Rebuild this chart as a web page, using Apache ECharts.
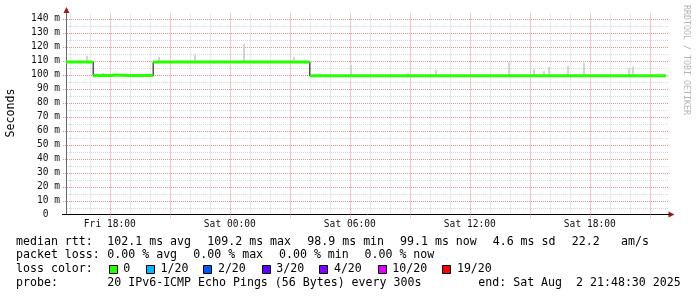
<!DOCTYPE html>
<html><head><meta charset="utf-8">
<script src="https://cdn.jsdelivr.net/npm/echarts@6/dist/echarts.min.js"></script>
<style>html,body{margin:0;padding:0;background:#fff}#c{width:697px;height:297px}</style>
</head><body><div id="c"></div>
<script>
// ---------------- data ----------------
const graphStart = '2025-08-01 15:48:30';
const graphEnd   = '2025-08-02 21:48:30';
const axisEnd    = '2025-08-02 21:57:30';
const xLabelTimes = ['2025-08-01 18:00','2025-08-02 00:00','2025-08-02 06:00','2025-08-02 12:00','2025-08-02 18:00'];
const yLabelValues = [0,10,20,30,40,50,60,70,80,90,100,110,120,130,140];
const yGridValues = [5,10,15,20,25,30,35,40,45,50,55,60,65,70,75,80,85,90,95,100,105,110,115,120,125,130,135,140];

// median rtt (ms), value holds from each time until the next one
const medianTimes = [
 '2025-08-01 15:48:30','2025-08-01 16:30','2025-08-01 16:35','2025-08-01 17:10','2025-08-01 17:20','2025-08-01 17:25',
 '2025-08-01 18:05','2025-08-01 18:15','2025-08-01 18:55','2025-08-01 19:00','2025-08-01 19:25','2025-08-01 19:30',
 '2025-08-01 19:45','2025-08-01 19:50','2025-08-01 20:10','2025-08-01 20:25','2025-08-01 20:30','2025-08-01 20:45',
 '2025-08-01 20:50','2025-08-01 21:25','2025-08-01 21:30','2025-08-01 21:40','2025-08-01 21:45','2025-08-01 22:40',
 '2025-08-01 22:45','2025-08-01 23:30','2025-08-01 23:35','2025-08-02 00:25','2025-08-02 00:30','2025-08-02 01:30',
 '2025-08-02 01:35','2025-08-02 01:45','2025-08-02 01:50','2025-08-02 02:30','2025-08-02 02:35','2025-08-02 02:55',
 '2025-08-02 03:00','2025-08-02 03:45','2025-08-02 03:50','2025-08-02 04:00','2025-08-02 06:05','2025-08-02 06:10',
 '2025-08-02 06:35','2025-08-02 06:40','2025-08-02 08:35','2025-08-02 08:40','2025-08-02 12:00','2025-08-02 12:05',
 '2025-08-02 17:20','2025-08-02 17:25','2025-08-02 17:55','2025-08-02 18:00','2025-08-02 18:50','2025-08-02 18:55',
 '2025-08-02 19:15','2025-08-02 19:20','2025-08-02 19:40','2025-08-02 19:45','2025-08-02 21:25','2025-08-02 21:30',
 '2025-08-02 21:48:30'];
const medianValues = [
 108.9,109.2,108.9,99.2,99.7,99.2,
 99.7,99.2,99.7,99.2,99.7,99.2,
 99.7,99.2,108.9,109.2,108.9,109.2,
 108.9,109.2,108.9,109.2,108.9,109.2,
 108.9,109.2,108.9,109.2,108.9,109.2,
 108.9,109.2,108.9,109.2,108.9,109.2,
 108.9,109.2,108.9,99.1,99.6,99.1,
 99.6,99.1,98.9,99.1,99.6,99.1,
 99.6,99.1,99.6,99.1,99.6,99.1,
 99.6,99.1,99.6,99.1,99.6,99.1,
 99.1];

// smoke (spread of the pings), ms
const smokeTimes = ['2025-08-01 16:52','2025-08-01 17:38','2025-08-01 20:28','2025-08-01 22:15','2025-08-02 00:43',
 '2025-08-02 03:13','2025-08-02 04:30','2025-08-02 06:03','2025-08-02 08:55','2025-08-02 10:18','2025-08-02 13:58',
 '2025-08-02 15:13','2025-08-02 15:43','2025-08-02 15:58','2025-08-02 16:53','2025-08-02 17:43','2025-08-02 19:58',
 '2025-08-02 20:08'];
const smokeLow  = [108.9,99.2,108.9,108.9,108.9,108.9,99.1,99.1,99.1,99.1,99.1,99.1,99.1,99.1,99.1,99.1,99.1,99.1];
const smokeHigh = [113.2,101.0,112.7,114.1,121.8,112.3,100.9,106.8,101.0,103.2,108.4,103.7,102.5,105.6,106.1,108.4,104.4,105.6];

const lossLabels = ['0','1/20','2/20','3/20','4/20','10/20','19/20'];
const lossColors = ['#26ff00','#00b8ff','#0059ff','#5e00ff','#7e00ff','#dd00ff','#ff0000'];

const rttItems  = ['102.1 ms avg','109.2 ms max','98.9 ms min','99.1 ms now','4.6 ms sd','22.2','am/s'];
const lossItems = ['0.00 % avg','0.00 % max','0.00 % min','0.00 % now'];
const probeText = '20 IPv6-ICMP Echo Pings (56 Bytes) every 300s';
const endText   = 'end: Sat Aug  2 21:48:30 2025';

// ---------------- layout ----------------
const MONO = '"DejaVu Sans Mono", "Liberation Mono", monospace';
const MAJOR = '#e69090', MINOR = '#d6d6d6';
const rttX  = [107.3, 207.3, 307.3, 400, 492.7, 571.7, 621];
const lossX = [107.3, 193.3, 279, 364.5];
const swatchX = [108.7, 146, 203.3, 261.7, 319.3, 377.7, 442.3];
const lineY = [241.7, 255.3, 269, 282.7];

const T = s => Date.parse(s.replace(' ', 'T') + 'Z');
const pad = n => (n < 10 ? '0' : '') + n;
const DAYS = ['Sun','Mon','Tue','Wed','Thu','Fri','Sat'];

const median = medianTimes.map((s, i) => [T(s), medianValues[i]]);
const green = [];
median.forEach((p, i) => {
  if (i > 0 && Math.abs(p[1] - median[i-1][1]) > 3) {
    green.push([p[0], median[i-1][1]]);
    green.push([p[0], '-']);
  }
  green.push(p);
});
const smoke = smokeTimes.map((s, i) => [T(s), smokeLow[i], smokeHigh[i]]);
const gridHours = [];
for (let t = T('2025-08-01 16:00'); t <= T(axisEnd); t += 3600e3) gridHours.push(t);

const graphics = [];
function txt(x, y, text) {
  graphics.push({type:'text', x:x, y:y, silent:true,
    style:{text:text, font:'11.6px ' + MONO, fill:'#000', align:'left', verticalAlign:'middle',
           textAlign:'left', textVerticalAlign:'middle'}});
}
txt(16, lineY[0], 'median rtt:');
rttItems.forEach((s, i) => txt(rttX[i], lineY[0], s));
txt(16, lineY[1], 'packet loss:');
lossItems.forEach((s, i) => txt(lossX[i], lineY[1], s));
txt(16, lineY[2], 'loss color:');
lossLabels.forEach((s, i) => {
  graphics.push({type:'rect', silent:true, shape:{x:Math.round(swatchX[i]) + 0.5, y:265.5, width:8, height:8},
    style:{fill:lossColors[i], stroke:'#000', lineWidth:1}});
  txt(swatchX[i] + 14.6, lineY[2], s);
});
txt(16, lineY[3], 'probe:');
txt(107.3, lineY[3], probeText);
txt(478.3, lineY[3], endText);
graphics.push({type:'text', x:10.5, y:113, rotation:Math.PI/2, silent:true,
  style:{text:'Seconds', font:'11.6px ' + MONO, fill:'#000', align:'center', verticalAlign:'middle',
         textAlign:'center', textVerticalAlign:'middle'}});
graphics.push({type:'text', x:686, y:60, rotation:-Math.PI/2, silent:true,
  style:{text:'RRDTOOL / TOBI OETIKER', font:'8.3px ' + MONO, fill:'#b4b4b4', align:'center', verticalAlign:'middle',
         textAlign:'center', textVerticalAlign:'middle'}});
graphics.push({type:'line', silent:true, shape:{x1:62, y1:214.5, x2:66, y2:214.5}, style:{stroke:'#000', lineWidth:1}});
graphics.push({type:'polygon', silent:true, shape:{points:[[63.5,13],[69.5,13],[66.5,7]]}, style:{fill:'#a01818'}});
graphics.push({type:'polygon', silent:true, shape:{points:[[668.5,211.5],[668.5,217.5],[674.5,214.5]]}, style:{fill:'#a01818'}});

const chart = echarts.init(document.getElementById('c'), null, {renderer:'canvas'});
chart.setOption({
  animation:false,
  backgroundColor:'#ffffff',
  grid:{left:66, top:12.9, width:603, height:201.6, containLabel:false, outerBoundsMode:'none'},
  xAxis:{
    type:'value', min:T(graphStart), max:T(axisEnd),
    axisLine:{show:true, onZero:false, lineStyle:{color:'#000', width:1}},
    axisTick:{show:false},
    splitLine:{show:false},
    axisLabel:{customValues:xLabelTimes.map(T), margin:5, fontFamily:MONO, fontSize:9.6, color:'#111',
      formatter:v => { const d = new Date(v); return DAYS[d.getUTCDay()] + ' ' + pad(d.getUTCHours()) + ':' + pad(d.getUTCMinutes()); }}
  },
  yAxis:{
    type:'value', min:0, max:144, interval:5,
    axisLine:{show:true, lineStyle:{color:'#6a6a6a', width:1}},
    axisTick:{show:false},
    axisLabel:{margin:6, fontFamily:MONO, fontSize:9.6, color:'#111',
      formatter:v => yLabelValues.indexOf(v) < 0 ? '' : (v === 0 ? '0  ' : v + ' m')},
    splitLine:{show:false}
  },
  graphic:graphics,
  series:[
    { // horizontal grid
      type:'custom', z:1, silent:true, data:yGridValues.map(v => [T(graphStart), v]),
      renderItem:(params, api) => {
        const v = api.value(1);
        const p = api.coord([api.value(0), v]);
        const cs = params.coordSys;
        const y = Math.round(p[1]) + 0.5;
        const major = v % 10 === 0;
        return {type:'line', shape:{x1:major ? cs.x - 3 : cs.x + 1, y1:y, x2:cs.x + cs.width, y2:y},
          style:{stroke: major ? MAJOR : MINOR, lineWidth:1, lineDash:[1,1]}};
      }
    },
    { // vertical grid
      type:'custom', z:1, silent:true, data:gridHours,
      renderItem:(params, api) => {
        const t = api.value(0);
        const p = api.coord([t, 0]);
        const top = params.coordSys.y;
        const major = Math.round(t / 3600e3) % 3 === 0;
        const x = Math.round(p[0]) + 0.5;
        return {type:'line', shape:{x1:x, y1:major ? p[1] + 3 : p[1] - 1, x2:x, y2:top},
          style:{stroke: major ? MAJOR : MINOR, lineWidth:1, lineDash:[1,1]}};
      }
    },
    { // smoke
      type:'custom', z:2, silent:true, data:smoke,
      renderItem:(params, api) => {
        const a = api.coord([api.value(0), api.value(1)]);
        const b = api.coord([api.value(0), api.value(2)]);
        return {type:'rect', shape:{x:Math.round(a[0]) - 1, y:b[1], width:2, height:a[1] - b[1]}, style:{fill:'#d4d4d4'}};
      }
    },
    { // median, black
      type:'line', z:3, silent:true, step:'end', showSymbol:false, symbol:'none', data:median,
      lineStyle:{color:'#000', width:1}
    },
    { // median, coloured by loss
      type:'line', z:4, silent:true, step:'end', showSymbol:false, symbol:'none', connectNulls:false, data:green,
      lineStyle:{color:lossColors[0], width:3, cap:'butt'}
    }
  ]
});
</script>
</body></html>
